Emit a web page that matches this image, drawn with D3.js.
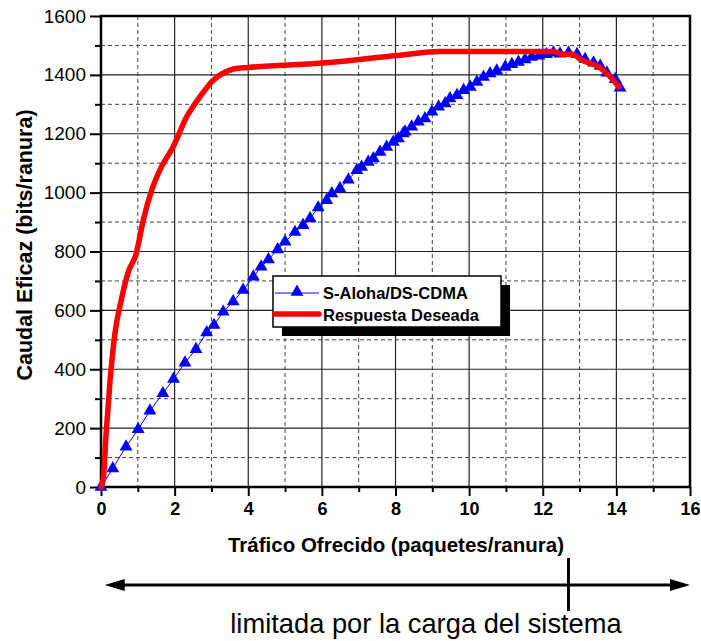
<!DOCTYPE html>
<html>
<head>
<meta charset="utf-8">
<script src="https://cdn.jsdelivr.net/npm/d3@7"></script>
<style>
  body { margin: 0; background: #fff; }
  svg { display: block; font-family: "Liberation Sans", Arial, sans-serif; }
</style>
</head>
<body>
<svg id="chart" width="701" height="641"></svg>
<script>
// S-Aloha/DS-CDMA throughput (triangles)
var alohaX = [0, 0.32, 0.68, 1.01, 1.33, 1.68, 1.97, 2.28, 2.58, 2.87, 3.07, 3.32, 3.59,
  3.86, 4.14, 4.35, 4.55, 4.80, 5.00, 5.27, 5.49, 5.68, 5.90, 6.13, 6.27, 6.49, 6.72,
  6.95, 7.08, 7.26, 7.40, 7.58, 7.76, 7.94, 8.08, 8.21, 8.26, 8.44, 8.62, 8.80, 8.99,
  9.17, 9.35, 9.48, 9.67, 9.85, 10.03, 10.21, 10.39, 10.57, 10.75, 10.98, 11.16, 11.34,
  11.52, 11.70, 11.90, 12.10, 12.29, 12.47, 12.70, 12.93, 13.15, 13.38, 13.56, 13.74,
  13.97, 14.10];
var alohaY = [0, 63, 137, 196, 259, 318, 367, 422, 468, 525, 550, 595, 630,
  669, 714, 748, 773, 807, 833, 866, 889, 912, 949, 974, 997, 1014, 1044,
  1076, 1087, 1104, 1116, 1138, 1155, 1172, 1184, 1201, 1207, 1224, 1241, 1252, 1275,
  1292, 1303, 1320, 1331, 1348, 1359, 1376, 1393, 1405, 1414, 1427, 1436, 1444,
  1452, 1461, 1465, 1470, 1475, 1472, 1475, 1470, 1453, 1441, 1430, 1407,
  1385, 1356];

// desired response (red)
var deseadaX = [0, 0.06, 0.14, 0.24, 0.38, 0.55, 0.74, 0.95, 1.15, 1.38, 1.6, 1.96, 2.33,
  2.69, 3.05, 3.35, 3.6, 4, 6, 8.12, 9.21, 12.29, 12.56, 12.79, 13.06, 13.51, 13.79, 14.06];
var deseadaY = [0, 24, 183, 352, 523, 635, 730, 790, 907, 1009, 1077, 1156, 1258,
  1326, 1382, 1408, 1420, 1425, 1440, 1467, 1479, 1479, 1470, 1470, 1450, 1428, 1399, 1360];

var xTicks = [0, 2, 4, 6, 8, 10, 12, 14, 16];
var yTicks = [0, 200, 400, 600, 800, 1000, 1200, 1400, 1600];
var xMinor = [1, 3, 5, 7, 9, 11, 13, 15];
var yMinor = [100, 300, 500, 700, 900, 1100, 1300, 1500];

var seriesNames = ["S-Aloha/DS-CDMA", "Respuesta Deseada"];
var xTitle = "Tráfico Ofrecido (paquetes/ranura)";
var yTitle = "Caudal Eficaz (bits/ranura)";
var noteText = "limitada por la carga del sistema";
var limitAt = 12.7;

var pLeft = 101, pRight = 690, pTop = 16, pBottom = 487;

var svg = d3.select("#chart");

var x = d3.scaleLinear().domain([0, 16]).range([pLeft, pRight]);
var y = d3.scaleLinear().domain([0, 1600]).range([pBottom, pTop]);

// grid
var grid = svg.append("g");
grid.selectAll(".gmx").data(xMinor).enter().append("line")
    .attr("x1", d => x(d)).attr("x2", d => x(d))
    .attr("y1", pTop).attr("y2", pBottom)
    .attr("stroke", "#444").attr("stroke-dasharray", "4,3");
grid.selectAll(".gmy").data(yMinor).enter().append("line")
    .attr("x1", pLeft).attr("x2", pRight)
    .attr("y1", d => y(d)).attr("y2", d => y(d))
    .attr("stroke", "#444").attr("stroke-dasharray", "4,3");
grid.selectAll(".gx").data(xTicks.slice(1, -1)).enter().append("line")
    .attr("x1", d => x(d)).attr("x2", d => x(d))
    .attr("y1", pTop).attr("y2", pBottom)
    .attr("stroke", "#222").attr("stroke-width", 1.2);
grid.selectAll(".gy").data(yTicks.slice(1, -1)).enter().append("line")
    .attr("x1", pLeft).attr("x2", pRight)
    .attr("y1", d => y(d)).attr("y2", d => y(d))
    .attr("stroke", "#222").attr("stroke-width", 1.2);

// frame
svg.append("rect")
    .attr("x", pLeft).attr("y", pTop)
    .attr("width", pRight - pLeft).attr("height", pBottom - pTop)
    .attr("fill", "none").attr("stroke", "#000").attr("stroke-width", 2.5);

// axes
var xAxis = d3.axisBottom(x).tickValues(xTicks).tickSize(9).tickPadding(6).tickFormat(d3.format("d"));
var yAxis = d3.axisLeft(y).tickValues(yTicks).tickSize(11).tickPadding(4).tickFormat(d3.format("d"));

var gx = svg.append("g").attr("transform", "translate(0," + pBottom + ")").call(xAxis);
gx.select(".domain").remove();
gx.selectAll("line").attr("stroke-width", 2);
gx.selectAll("text").attr("font-size", 18).attr("font-weight", "bold").attr("fill", "#000")
    .attr("font-family", "Liberation Sans, Arial, sans-serif");

var gxm = svg.append("g").attr("transform", "translate(0," + pBottom + ")")
    .call(d3.axisBottom(x).tickValues(xMinor).tickSize(5).tickFormat(""));
gxm.select(".domain").remove();
gxm.selectAll("line").attr("stroke-width", 2);

var gy = svg.append("g").attr("transform", "translate(" + pLeft + ",0)").call(yAxis);
gy.select(".domain").remove();
gy.selectAll("line").attr("stroke-width", 2);
gy.selectAll("text").attr("font-size", 19).attr("fill", "#000")
    .attr("font-family", "Liberation Sans, Arial, sans-serif");

var gym = svg.append("g").attr("transform", "translate(" + pLeft + ",0)")
    .call(d3.axisLeft(y).tickValues(yMinor).tickSize(6).tickFormat(""));
gym.select(".domain").remove();
gym.selectAll("line").attr("stroke-width", 2);

// axis titles
svg.append("text")
    .attr("x", 396).attr("y", 552)
    .attr("text-anchor", "middle")
    .attr("font-size", 20.5).attr("font-weight", "bold")
    .text(xTitle);
svg.append("text")
    .attr("transform", "translate(32,245) rotate(-90)")
    .attr("text-anchor", "middle")
    .attr("font-size", 21.5).attr("font-weight", "bold")
    .text(yTitle);

// series
var aloha = alohaX.map((d, i) => [d, alohaY[i]]);
var deseada = deseadaX.map((d, i) => [d, deseadaY[i]]);
var line = d3.line().x(d => x(d[0])).y(d => y(d[1]));

svg.append("path").datum(aloha)
    .attr("d", line).attr("fill", "none")
    .attr("stroke", "#0000ff").attr("stroke-width", 1);

var tri = d3.symbol().type(d3.symbolTriangle).size(72);
svg.selectAll(".tri").data(aloha).enter().append("path")
    .attr("d", tri)
    .attr("transform", d => "translate(" + x(d[0]) + "," + y(d[1]) + ")")
    .attr("fill", "#0000ff");

svg.append("path").datum(deseada)
    .attr("d", line.curve(d3.curveMonotoneX)).attr("fill", "none")
    .attr("stroke", "#ff0000").attr("stroke-width", 5.5)
    .attr("stroke-linejoin", "round").attr("stroke-linecap", "round");

// legend
var lg = svg.append("g").attr("transform", "translate(273,276)");
lg.append("rect").attr("x", 9).attr("y", 9).attr("width", 228).attr("height", 51).attr("fill", "#000");
lg.append("rect").attr("x", 0).attr("y", 0).attr("width", 228).attr("height", 51)
    .attr("fill", "#fff").attr("stroke", "#000").attr("stroke-width", 1.5);
lg.append("line").attr("x1", 2).attr("x2", 46).attr("y1", 17).attr("y2", 17)
    .attr("stroke", "#0000ff").attr("stroke-width", 1);
lg.append("path").attr("d", tri).attr("transform", "translate(24,16)").attr("fill", "#0000ff");
lg.append("line").attr("x1", 2).attr("x2", 46).attr("y1", 38).attr("y2", 38)
    .attr("stroke", "#ff0000").attr("stroke-width", 5.5).attr("stroke-linecap", "round");
lg.selectAll("text").data(seriesNames).enter().append("text")
    .attr("x", 50).attr("y", (d, i) => 23 + i * 22)
    .attr("font-size", 16.5).attr("font-weight", "bold")
    .text(d => d);

// bottom arrow
var ay = 585;
svg.append("line").attr("x1", x(0.1) + 14).attr("x2", x(16) - 14)
    .attr("y1", ay).attr("y2", ay).attr("stroke", "#000").attr("stroke-width", 3);
svg.append("path")
    .attr("d", "M" + x(0.1) + "," + ay + " l20,-6 l0,12 z").attr("fill", "#000");
svg.append("path")
    .attr("d", "M" + x(16) + "," + ay + " l-20,-6 l0,12 z").attr("fill", "#000");
svg.append("line").attr("x1", x(limitAt)).attr("x2", x(limitAt))
    .attr("y1", 558).attr("y2", 611).attr("stroke", "#000").attr("stroke-width", 3);

svg.append("text")
    .attr("x", 426).attr("y", 633)
    .attr("text-anchor", "middle")
    .attr("font-size", 27.3)
    .text(noteText);
</script>
</body>
</html>
